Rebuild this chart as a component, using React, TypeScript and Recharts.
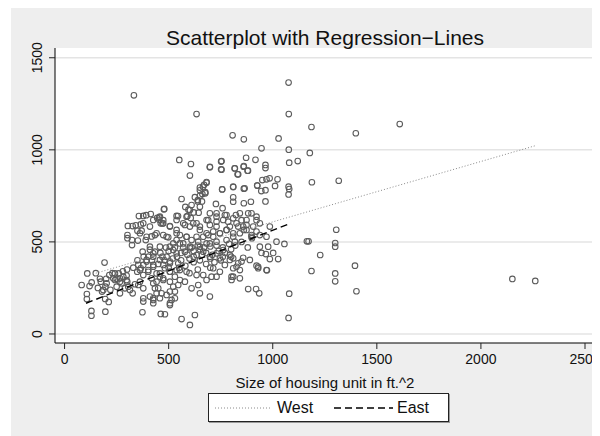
import React from "react";
import { ScatterChart, Scatter, XAxis, YAxis, CartesianGrid } from "recharts";

type Pt = { x: number; y: number };

const xTicks = [0, 500, 1000, 1500, 2000, 2500];
const yTicks = [0, 500, 1000, 1500];

// size (ft^2) vs rent
const houses: [number, number][] = [
  // sparse / outliers
  [333, 1296], [634, 1194], [1076, 1365], [1077, 1194], [807, 1079], [861, 1057], [1028, 1062],
  [1186, 1124], [1399, 1090], [1610, 1140], [946, 1008], [1077, 1001], [1178, 983], [551, 945],
  [607, 923], [754, 939], [872, 957], [917, 946], [965, 918], [965, 901], [1079, 930], [1120, 939],
  [602, 860], [698, 905], [754, 892], [817, 899], [860, 908], [881, 887], [834, 867], [970, 840],
  [985, 845], [950, 836], [1023, 840], [1188, 824], [1317, 832], [1076, 800], [1076, 758],
  [1079, 787], [1011, 804], [945, 776], [965, 781], [965, 720], [926, 805], [865, 791], [810, 798],
  [757, 786], [682, 825], [670, 810], [650, 795], [662, 760], [676, 770], [562, 733], [479, 679],
  [626, 743], [610, 700], [640, 720], [620, 660], [595, 675], [580, 690], [590, 640],
  [357, 640], [392, 645], [445, 630], [455, 620], [470, 600], [545, 640],
  [304, 587], [342, 590], [350, 560], [302, 537], [302, 520], [352, 507], [390, 510], [418, 530],
  [192, 388], [109, 329], [82, 266], [107, 217], [107, 190], [129, 125], [129, 99], [196, 121],
  [195, 190], [212, 174], [374, 118], [462, 109], [562, 81], [602, 49], [626, 103], [698, 203],
  [882, 244], [920, 244], [935, 221], [972, 346],
  [1079, 219], [1076, 87], [1172, 503], [1056, 489], [1228, 429], [1186, 342], [1305, 566],
  [1300, 494], [1300, 474], [1164, 503], [1395, 371], [1300, 329], [1300, 286], [1402, 232],
  [2151, 299], [2261, 288],
  // upper part of the cloud
  [698, 908], [752, 894], [752, 936], [818, 900], [831, 867], [861, 912], [879, 887],
  [682, 821], [665, 800], [650, 780], [676, 764], [650, 750], [640, 727], [660, 720],
  [757, 785], [810, 800], [810, 742], [810, 718], [861, 789], [861, 710], [895, 718], [925, 807],
  [727, 706], [759, 683], [477, 677], [378, 641], [414, 651], [327, 586], [366, 595], [370, 561],
  [455, 633], [462, 601], [474, 618], [538, 641], [506, 586], [578, 592], [602, 673], [650, 691],
  [644, 659], [606, 630], [634, 601], [602, 583], [730, 655], [770, 646], [823, 646], [786, 610],
  [730, 610], [690, 618], [698, 592], [850, 618], [874, 592], [882, 655], [922, 618], [922, 556],
  [898, 528], [861, 565], [434, 537], [474, 537], [498, 525], [324, 510], [324, 483],
  [538, 565], [554, 537], [586, 528], [538, 510], [522, 492], [570, 492], [610, 510],
  [650, 565], [666, 528], [690, 537], [714, 556], [746, 547], [778, 565], [810, 547], [834, 583],
  [642, 501], [682, 492], [730, 501], [778, 510], [818, 501],
  // middle and lower part
  [375, 447], [410, 458], [426, 420], [434, 447], [487, 469], [522, 456], [538, 438], [578, 447],
  [602, 465], [634, 429], [666, 447], [698, 420], [730, 438], [746, 411], [762, 456], [794, 429],
  [810, 411], [858, 414], [834, 384], [842, 347], [810, 357], [842, 302], [802, 311],
  [922, 371], [930, 357], [266, 302], [298, 317], [301, 284], [327, 221], [290, 248], [338, 270],
  [362, 284], [349, 338], [366, 357], [394, 393], [378, 375], [426, 375], [402, 347], [418, 302],
  [442, 284], [434, 248], [426, 194], [378, 176], [482, 107], [506, 157], [514, 185], [490, 212],
  [530, 230], [546, 266], [506, 284], [474, 302], [578, 284], [610, 248], [642, 266], [650, 221],
  [682, 293], [706, 311], [730, 311], [666, 320], [634, 320], [586, 338], [554, 347], [506, 338],
  [458, 329], [474, 375], [506, 393], [546, 384], [746, 338], [770, 375], [714, 357],
  [354, 375], [362, 347], [378, 320], [402, 338], [426, 365], [442, 329], [458, 311], [474, 293],
  [426, 275], [450, 248], [466, 221], [378, 248], [354, 266], [410, 203], [426, 185], [442, 221],
  [506, 230], [522, 257], [394, 402], [426, 438], [402, 420], [458, 402], [490, 420], [506, 384],
  [482, 357], [506, 338], [530, 311], [538, 347], [554, 293],
  [242, 329], [260, 329], [282, 311], [298, 293], [306, 257], [314, 239], [274, 275], [250, 257],
  [234, 302], [202, 275], [186, 239], [266, 221], [174, 284], [215, 320], [242, 293], [266, 284],
  [196, 257], [378, 194], [426, 167], [458, 194], [506, 167], [530, 194],
  [730, 637], [762, 619], [778, 646], [810, 628], [842, 655], [874, 619], [898, 655], [922, 637],
  [938, 601], [906, 583], [874, 565], [842, 547], [810, 528], [778, 565], [746, 547], [714, 528],
  [730, 583], [794, 583], [826, 601], [858, 583], [898, 537], [938, 537],
  [986, 583], [970, 528], [978, 474], [1018, 501], [1026, 407], [986, 407], [967, 434], [938, 474],
  [946, 440], [1002, 440], [930, 365], [970, 347], [890, 402], [850, 393], [810, 311],
  [802, 293], [826, 365], [794, 402],
  [586, 637], [618, 601], [650, 583], [682, 619], [698, 655], [570, 601], [538, 619], [506, 583],
  [474, 601], [458, 637], [426, 619], [410, 583], [378, 601], [362, 547], [394, 528], [442, 547],
  [490, 528], [538, 547], [586, 528], [634, 528], [682, 547], [554, 492], [602, 474], [650, 474],
  [698, 492], [506, 474], [458, 474], [410, 474],
  // dense core
  [560, 440], [590, 430], [620, 450], [650, 460], [680, 440], [710, 430], [740, 450], [770, 440],
  [800, 460], [530, 470], [570, 470], [610, 470], [640, 480], [670, 470], [700, 475], [730, 480],
  [760, 470], [790, 490], [820, 480], [850, 500], [880, 470], [900, 520], [600, 410], [650, 400],
  [700, 410], [750, 400], [800, 420], [560, 400], [620, 390], [680, 380], [520, 410], [580, 370],
  [640, 350], [700, 360], [460, 440], [480, 400], [550, 360], [600, 330], [660, 430], [720, 390],
  [760, 420], [620, 420], [540, 420], [500, 450], [470, 420], [450, 380], [420, 400], [500, 360],
  [380, 420], [350, 400], [330, 360], [300, 350], [280, 340], [250, 300], [230, 330], [200, 300],
  [170, 300], [150, 330], [130, 280], [120, 260], [160, 250], [180, 230], [220, 240],
];

// fitted lines, end points
const westFit: Pt[] = [{ x: 150, y: 330 }, { x: 2260, y: 1022 }];
const eastFit: Pt[] = [{ x: 103, y: 167 }, { x: 1077, y: 597 }];

const points: Pt[] = houses.map(([x, y]) => ({ x, y }));

const font = '"Liberation Sans", Arial, Helvetica, sans-serif';
const panel = "#eeeeee";

const YTick = (p: any) => (
  <text
    x={p.x}
    y={p.y}
    transform={`rotate(-90 ${p.x} ${p.y})`}
    textAnchor="middle"
    fontSize={14}
    fill="#111"
  >
    {p.payload.value}
  </text>
);

const Ring = (p: any) => (
  <circle cx={p.cx} cy={p.cy} r={2.8} fill="none" stroke="#5c5c5c" strokeWidth={1.1} />
);

export default function App() {
  return (
    <div style={{ position: "relative", width: 600, height: 436, margin: "-8px 0 0 -8px", background: panel, fontFamily: font, overflow: "hidden" }}>
      <ScatterChart
        width={600}
        height={436}
        margin={{ top: 48, right: 5, bottom: 63, left: 11 }}
        style={{ background: panel }}
      >
        <CartesianGrid vertical={false} fill="#ffffff" stroke="#e4e4e4" strokeWidth={1.5} horizontalValues={yTicks} />
        <XAxis
          type="number"
          dataKey="x"
          domain={[-46, 2548]}
          ticks={xTicks}
          height={30}
          tickSize={6}
          tickMargin={5}
          axisLine={{ stroke: "#000" }}
          tickLine={{ stroke: "#222" }}
          tick={{ fontSize: 14, fill: "#111" }}
          interval={0}
        />
        <YAxis
          type="number"
          dataKey="y"
          domain={[-49, 1553]}
          ticks={yTicks}
          width={44}
          tickSize={6}
          tickMargin={7}
          axisLine={{ stroke: "#000" }}
          tickLine={{ stroke: "#222" }}
          tick={YTick}
          interval={0}
        />
        <Scatter data={points} shape={Ring} isAnimationActive={false} />
        <Scatter
          data={westFit}
          shape={() => <g />}
          line={{ stroke: "#8a8a8a", strokeWidth: 1, strokeDasharray: "1 2" }}
          isAnimationActive={false}
        />
        <Scatter
          data={eastFit}
          shape={() => <g />}
          line={{ stroke: "#000", strokeWidth: 1.4, strokeDasharray: "7 4" }}
          isAnimationActive={false}
        />
      </ScatterChart>
      {/* white margin strips round the grey panel */}
      <div style={{ position: "absolute", left: 0, top: 0, width: 11, height: 436, background: "#fff" }} />
      <div style={{ position: "absolute", left: 0, top: 0, width: 600, height: 6, background: "#fff" }} />
      <div style={{ position: "absolute", left: 55, top: 27, width: 540, textAlign: "center", fontSize: 21, lineHeight: "21px", color: "#111" }}>
        Scatterplot with Regression−Lines
      </div>
      <div style={{ position: "absolute", left: 55, top: 375, width: 540, textAlign: "center", fontSize: 15, lineHeight: "15px", color: "#111" }}>
        Size of housing unit in ft.^2
      </div>
      <div
        style={{
          position: "absolute",
          left: 208,
          top: 393,
          width: 239,
          height: 27,
          background: "#fff",
          border: "1px solid #222",
          boxShadow: "1px 1px 0 #9a9a9a",
          fontSize: 16,
          lineHeight: "16px",
          color: "#111",
        }}
      >
        <svg style={{ position: "absolute", left: 6, top: 13 }} width={57} height={2}>
          <line x1={0} y1={1} x2={57} y2={1} stroke="#8a8a8a" strokeWidth={1} strokeDasharray="1 2" />
        </svg>
        <div style={{ position: "absolute", left: 68, top: 6 }}>West</div>
        <svg style={{ position: "absolute", left: 125, top: 13 }} width={59} height={2}>
          <line x1={0} y1={1} x2={59} y2={1} stroke="#000" strokeWidth={1.4} strokeDasharray="7 4" />
        </svg>
        <div style={{ position: "absolute", left: 188, top: 6 }}>East</div>
      </div>
    </div>
  );
}
